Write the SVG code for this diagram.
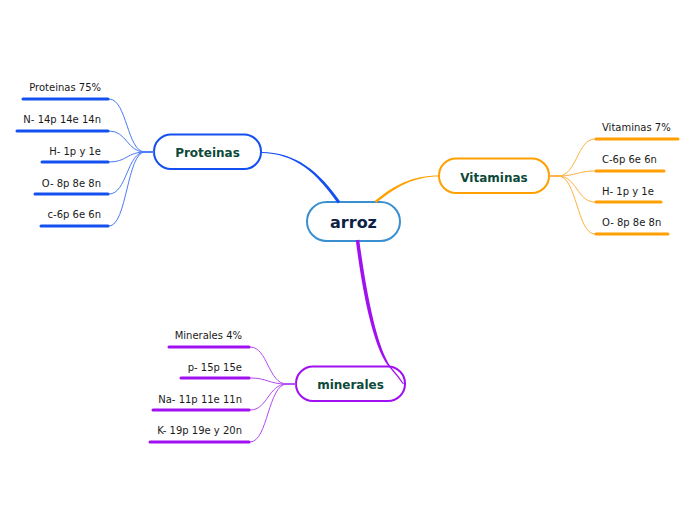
<svg xmlns="http://www.w3.org/2000/svg" width="696" height="520" viewBox="0 0 696 520">
<style>
.leaf{font-family:"DejaVu Sans",Verdana,sans-serif;font-size:10px;fill:#1a1a1a}
.node{font-family:"DejaVu Sans",Verdana,sans-serif;font-size:12px;font-weight:bold;fill:#0d4a3a;text-anchor:middle}
.box{fill:#fff;stroke-width:2}
.thin{fill:none;stroke-width:1}
.bar{fill:none;stroke-width:3;stroke-linecap:round}
.b{stroke:#1450f0}.o{stroke:#ffa000}.p{stroke:#a010f0}
.tb{stroke:#4a7af5}.to{stroke:#ffb040}.tp{stroke:#b548f5}
</style>
<rect width="696" height="520" fill="#fff"/>
<g id="arroz">
<rect class="box" x="307" y="202" width="93" height="39" rx="19.5" stroke="#3a8fd0"/>
<text x="353.5" y="228" class="node" style="font-size:16px;fill:#0f1f45">arroz</text>
</g>
<g id="proteinas">
<rect class="box b" x="154" y="134.5" width="107" height="34.5" rx="17"/>
<text x="207.5" y="157" class="node">Proteinas</text>
</g>
<g id="vitaminas">
<rect class="box o" x="439" y="158.5" width="110" height="34.5" rx="17"/>
<text x="494" y="181.5" class="node">Vitaminas</text>
</g>
<g id="minerales">
<rect class="box p" x="296" y="366.5" width="109" height="34.5" rx="17"/>
<text x="350.5" y="389" class="node">minerales</text>
</g>
<g id="connectors">
<path d="M261,151.9 C295.5,151.8 319,171 340.2,201.6 L337.8,203.4 C317,173 294.5,153.2 261,153.1 Z" fill="#1450f0"/>
<path d="M374.7,201.1 C394,185 412.5,175.5 439,175.5 L439,176.5 C413.5,176.5 396,187 376.3,202.9 Z" fill="#ffa000"/>
<path d="M355.8,240.2 C364,305 375.5,351 389.4,367.5 L390.6,366.5 C378.5,349 368,305 359.2,239.8 Z" fill="#a010f0"/>
<path d="M390,367 Q398,376 403.5,384" fill="none" stroke="#a010f0" stroke-width="1.2"/>
<path class="thin tb" d="M154,152 L145,152 C127,152 127,99 109,99"/>
<path class="thin tb" d="M154,152 L145,152 C127,152 127,131 109,131"/>
<path class="thin tb" d="M154,152 L145,152 C127,152 127,162 109,162"/>
<path class="thin tb" d="M154,152 L145,152 C127,152 127,194 109,194"/>
<path class="thin tb" d="M154,152 L145,152 C127,152 127,226 109,226"/>
<path class="thin to" d="M549,176 L558,176 C577,176 577,139 595,139"/>
<path class="thin to" d="M549,176 L558,176 C577,176 577,171 595,171"/>
<path class="thin to" d="M549,176 L558,176 C577,176 577,202 595,202"/>
<path class="thin to" d="M549,176 L558,176 C577,176 577,234 595,234"/>
<path class="thin tp" d="M296,384 L287,384 C268,384 268,347 250,347"/>
<path class="thin tp" d="M296,384 L287,384 C268,384 268,378 250,378"/>
<path class="thin tp" d="M296,384 L287,384 C268,384 268,410 250,410"/>
<path class="thin tp" d="M296,384 L287,384 C268,384 268,442 250,442"/>
</g>
<g id="proteinas-leaves" text-anchor="end">
<g id="p1"><path class="bar b" d="M23,99 H108"/><text class="leaf" x="101" y="91">Proteinas 75%</text></g>
<g id="p2"><path class="bar b" d="M17,131 H108"/><text class="leaf" x="101" y="123">N- 14p 14e 14n</text></g>
<g id="p3"><path class="bar b" d="M42,162 H108"/><text class="leaf" x="101" y="155">H- 1p y 1e</text></g>
<g id="p4"><path class="bar b" d="M35,194 H108"/><text class="leaf" x="101" y="187">O- 8p 8e 8n</text></g>
<g id="p5"><path class="bar b" d="M41,226 H108"/><text class="leaf" x="101" y="218">c-6p 6e 6n</text></g>
</g>
<g id="vitaminas-leaves">
<g id="v1"><path class="bar o" d="M596,139 H678"/><text class="leaf" x="602" y="131">Vitaminas 7%</text></g>
<g id="v2"><path class="bar o" d="M596,171 H664"/><text class="leaf" x="602" y="163">C-6p 6e 6n</text></g>
<g id="v3"><path class="bar o" d="M596,202 H661"/><text class="leaf" x="602" y="195">H- 1p y 1e</text></g>
<g id="v4"><path class="bar o" d="M596,234 H668"/><text class="leaf" x="602" y="226">O- 8p 8e 8n</text></g>
</g>
<g id="minerales-leaves" text-anchor="end">
<g id="m1"><path class="bar p" d="M169,347 H249"/><text class="leaf" x="242" y="339">Minerales 4%</text></g>
<g id="m2"><path class="bar p" d="M181,378 H249"/><text class="leaf" x="242" y="371">p- 15p 15e</text></g>
<g id="m3"><path class="bar p" d="M153,410 H249"/><text class="leaf" x="242" y="403">Na- 11p 11e 11n</text></g>
<g id="m4"><path class="bar p" d="M150,442 H249"/><text class="leaf" x="242" y="434">K- 19p 19e y 20n</text></g>
</g>
</svg>
